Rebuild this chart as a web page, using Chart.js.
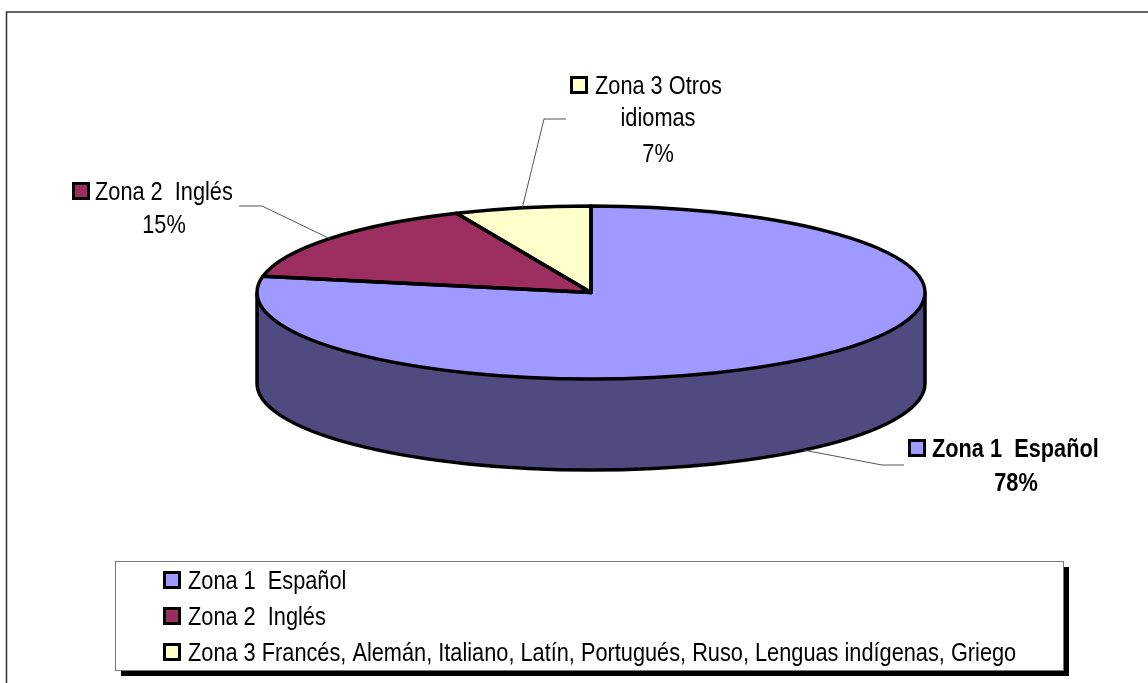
<!DOCTYPE html>
<html>
<head>
<meta charset="utf-8">
<style>
  html, body { margin: 0; padding: 0; background: #fff; }
  #wrap { position: relative; width: 1148px; height: 683px; overflow: hidden; }
  canvas { display: block; }
</style>
<script src="https://cdn.jsdelivr.net/npm/chart.js@4"></script>
</head>
<body>
<div id="wrap"><canvas id="chart" width="1148" height="683"></canvas></div>
<script>
const categories = ['Zona 1  Español', 'Zona 2  Inglés', 'Zona 3 Otros idiomas'];
// wedge sizes, the labels round them to 78 / 15 / 7
const values = [78, 15.4, 6.6];
const colors = ['#a099ff', '#9c2f60', '#ffffcc'];
const sideColors = ['#4f4a80', '#4e1830', '#808066'];
const legendLabels = [
  'Zona 1  Español',
  'Zona 2  Inglés',
  'Zona 3 Francés, Alemán, Italiano, Latín, Portugués, Ruso, Lenguas indígenas, Griego'
];
const labelLines = [['Zona 1  Español'], ['Zona 2  Inglés'], ['Zona 3 Otros', 'idiomas']];

const FONT = '"Liberation Sans", Arial, sans-serif';
const CX = 591, CY = 292.5, RY = 86.5, DEPTH = 91;
const EDGE = 3.5;

// where each data label sits: swatch box, first baseline, line gap, elbow of the leader
const labelPos = [
  { sx: 908, sy: 439, tx: 932, bold: true, y: 457, gap: 34, cx: 1016, elbow: [[882, 465], [904, 465]] },
  { sx: 72, sy: 182, tx: 95, bold: false, y: 200, gap: 33, cx: 164, elbow: [[262, 206], [239, 206]] },
  { sx: 570, sy: 76, tx: 595, bold: false, y: 94, gap: 34, cx: 658, elbow: [[544, 119], [566, 119]] }
];

function pieGeom(chart) {
  const arcs = chart.getDatasetMeta(0).data;
  const a = arcs[0];
  return { arcs, x: a.x, y: a.y, r: a.outerRadius, k: RY / a.outerRadius };
}

function swatch(ctx, x, y, fill) {
  ctx.fillStyle = fill;
  ctx.strokeStyle = '#000';
  ctx.lineWidth = 3;
  ctx.fillRect(x + 1.5, y + 1.5, 15, 15);
  ctx.strokeRect(x + 1.5, y + 1.5, 15, 15);
}

// the original type is tall and narrow, so squeeze it sideways
function narrowText(ctx, t, x, y, bold, align) {
  ctx.save();
  ctx.font = (bold ? 'bold ' : '') + '25px ' + FONT;
  ctx.textAlign = align;
  ctx.fillStyle = '#000';
  ctx.translate(x, y);
  ctx.scale(0.87, 1);
  ctx.fillText(t, 0, 0);
  ctx.restore();
}

const pie3d = {
  id: 'pie3d',
  beforeDatasetsDraw(chart) {
    const ctx = chart.ctx;
    const g = pieGeom(chart);
    // side wall, only the front half shows
    ctx.save();
    g.arcs.forEach((arc, i) => {
      const s = Math.max(arc.startAngle, 0);
      const e = Math.min(arc.endAngle, Math.PI);
      if (e <= s) return;
      ctx.beginPath();
      ctx.ellipse(g.x, CY, g.r, RY, 0, s, e);
      ctx.ellipse(g.x, CY + DEPTH, g.r, RY, 0, e, s, true);
      ctx.closePath();
      ctx.fillStyle = sideColors[i];
      ctx.fill();
    });
    ctx.beginPath();
    ctx.ellipse(g.x, CY + DEPTH, g.r, RY, 0, 0, Math.PI);
    ctx.moveTo(g.x - g.r, CY);
    ctx.lineTo(g.x - g.r, CY + DEPTH);
    ctx.moveTo(g.x + g.r, CY);
    ctx.lineTo(g.x + g.r, CY + DEPTH);
    ctx.strokeStyle = '#000';
    ctx.lineWidth = EDGE;
    ctx.stroke();
    ctx.restore();
    // squash the pie itself into the top ellipse
    ctx.save();
    ctx.translate(0, CY);
    ctx.scale(1, g.k);
    ctx.translate(0, -g.y);
  },
  afterDatasetsDraw(chart) {
    const ctx = chart.ctx;
    ctx.restore();
    const g = pieGeom(chart);
    ctx.save();
    ctx.strokeStyle = '#000';
    ctx.lineWidth = EDGE;
    ctx.lineJoin = 'round';
    g.arcs.forEach(arc => {
      ctx.beginPath();
      ctx.moveTo(g.x, CY);
      ctx.ellipse(g.x, CY, g.r, RY, 0, arc.startAngle, arc.endAngle);
      ctx.closePath();
      ctx.stroke();
    });
    ctx.restore();
  },
  afterDraw(chart) {
    const ctx = chart.ctx;
    const g = pieGeom(chart);
    ctx.save();
    // outer frame, only top and left are in the picture
    ctx.strokeStyle = '#333';
    ctx.lineWidth = 1.5;
    ctx.beginPath();
    ctx.moveTo(6.5, 683);
    ctx.lineTo(6.5, 12);
    ctx.lineTo(1148, 12);
    ctx.stroke();

    // data labels with leader lines
    g.arcs.forEach((arc, i) => {
      const p = labelPos[i];
      const mid = (arc.startAngle + arc.endAngle) / 2;
      const front = Math.sin(mid) > 0 ? DEPTH : 0;
      ctx.beginPath();
      ctx.moveTo(g.x + g.r * Math.cos(mid), CY + RY * Math.sin(mid) + front);
      p.elbow.forEach(pt => ctx.lineTo(pt[0], pt[1]));
      ctx.strokeStyle = '#555';
      ctx.lineWidth = 1;
      ctx.stroke();

      swatch(ctx, p.sx, p.sy, colors[i]);
      narrowText(ctx, labelLines[i][0], p.tx, p.y, p.bold, 'left');
      let y = p.y;
      labelLines[i].slice(1).forEach(t => { y += p.gap - 2; narrowText(ctx, t, p.cx, y, p.bold, 'center'); y += 2; });
      y += p.gap;
      narrowText(ctx, Math.round(values[i]) + '%', p.cx, y, p.bold, 'center');
    });

    // legend box with hard shadow
    ctx.fillStyle = '#000';
    ctx.fillRect(121, 567, 948, 109);
    ctx.fillStyle = '#fff';
    ctx.fillRect(115, 561, 948, 109);
    ctx.strokeStyle = '#777';
    ctx.lineWidth = 1;
    ctx.strokeRect(115.5, 561.5, 948, 109);
    const rows = [571, 607, 643];
    const baselines = [589, 625, 661];
    legendLabels.forEach((t, i) => {
      swatch(ctx, 163, rows[i], colors[i]);
      narrowText(ctx, t, 188, baselines[i], false, 'left');
    });
    ctx.restore();
  }
};

new Chart(document.getElementById('chart'), {
  type: 'pie',
  data: {
    labels: categories,
    datasets: [{ data: values, backgroundColor: colors, borderWidth: 0 }]
  },
  options: {
    responsive: false,
    animation: false,
    layout: { padding: { left: CX - 334, right: 1148 - CX - 334, top: 0, bottom: 15 } },
    plugins: { legend: { display: false }, tooltip: { enabled: false } }
  },
  plugins: [pie3d]
});
</script>
</body>
</html>
